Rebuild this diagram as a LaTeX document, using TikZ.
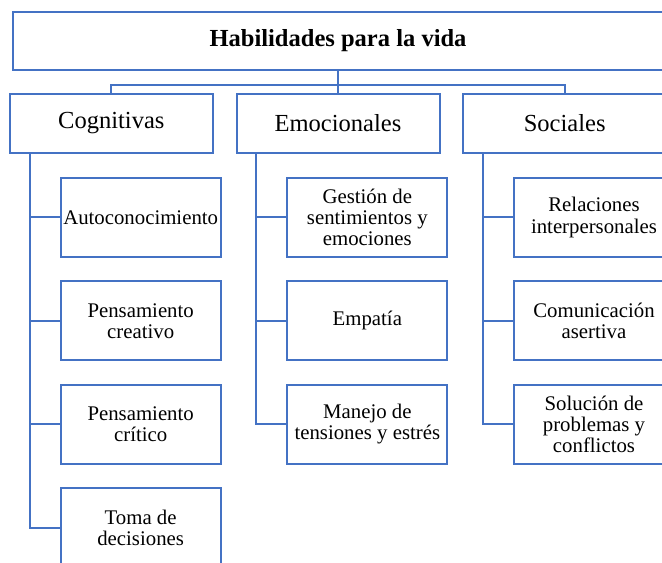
\documentclass[tikz,border=0pt]{standalone}
\usepackage{fontspec}
\setmainfont{Liberation Serif}
\usetikzlibrary{positioning}
\definecolor{azulrama}{RGB}{68,114,196}

\begin{document}
\begin{tikzpicture}

      \tikzstyle{titulo}=[rectangle,draw=azulrama,line width=1.5pt,
        minimum width=487.5pt,minimum height=43.5pt,
        text centered,font=\fontsize{18.4}{20}\selectfont\bfseries]
      \tikzstyle{area}=[rectangle,draw=azulrama,line width=1.5pt,
        minimum width=152.25pt,minimum height=44.25pt,
        text centered,font=\fontsize{18.4}{20}\selectfont]
      \tikzstyle{hoja}=[rectangle,draw=azulrama,line width=1.5pt,
        minimum width=120pt,minimum height=59.25pt,inner sep=1pt,
        align=center,font=\fontsize{15.6}{15.8}\selectfont]
      \tikzstyle{rama}=[draw=azulrama,line width=1.5pt]

      \useasboundingbox (0,0) rectangle (496.5pt,-422.25pt);

      \node(VIDA)[titulo] at (253.5pt,-30.75pt){Habilidades para la vida};

      \node(Cognitivas)[area,below =16.5pt of VIDA,
        xshift=-170pt]{Cognitivas};
      \node(Emocionales)[area,below =16.5pt of VIDA]{Emocionales};
      \node(Sociales)[area,below =16.5pt of VIDA,
        xshift=170pt]{Sociales};

      \coordinate(bus) at ([yshift=-10.5pt]VIDA.south);
      \draw [rama] (VIDA.south)--(bus);
      \draw [rama] (bus)-|(Cognitivas.north);
      \draw [rama] (bus)--(Emocionales.north);
      \draw [rama] (bus)-|(Sociales.north);

      \node(Autoconocimiento1)[hoja,below =17.25pt of Cognitivas,
        xshift=22pt]{Autoconocimiento};
      \node(Creativo1)[hoja,below =16.85pt of Autoconocimiento1]
        {Pensamiento\\creativo};
      \node(Critico1)[hoja,below =16.85pt of Creativo1]
        {Pensamiento\\crítico};
      \node(Decisiones1)[hoja,below =16.85pt of Critico1]
        {Toma de\\decisiones};

      \draw [rama] ([xshift=15.5pt]Cognitivas.south west)
      |-(Autoconocimiento1.west);
      \draw [rama] ([xshift=15.5pt]Cognitivas.south west)
      |-(Creativo1.west);
      \draw [rama] ([xshift=15.5pt]Cognitivas.south west)
      |-(Critico1.west);
      \draw [rama] ([xshift=15.5pt]Cognitivas.south west)
      |-(Decisiones1.west);

      \node(Sentimientos2)[hoja,below =17.25pt of Emocionales,
        xshift=22pt]{Gestión de\\sentimientos y\\emociones};
      \node(Empatia2)[hoja,below =16.85pt of Sentimientos2]{Empatía};
      \node(Tensiones2)[hoja,below =16.85pt of Empatia2]
        {Manejo de\\tensiones y estrés};

      \draw [rama] ([xshift=15.5pt]Emocionales.south west)
      |-(Sentimientos2.west);
      \draw [rama] ([xshift=15.5pt]Emocionales.south west)
      |-(Empatia2.west);
      \draw [rama] ([xshift=15.5pt]Emocionales.south west)
      |-(Tensiones2.west);

      \node(Relaciones3)[hoja,below =17.25pt of Sociales,
        xshift=22pt]{Relaciones\\interpersonales};
      \node(Comunicacion3)[hoja,below =16.85pt of Relaciones3]
        {Comunicación\\asertiva};
      \node(Solucion3)[hoja,below =16.85pt of Comunicacion3]
        {Solución de\\problemas y\\conflictos};

      \draw [rama] ([xshift=15.5pt]Sociales.south west)
      |-(Relaciones3.west);
      \draw [rama] ([xshift=15.5pt]Sociales.south west)
      |-(Comunicacion3.west);
      \draw [rama] ([xshift=15.5pt]Sociales.south west)
      |-(Solucion3.west);

    \end{tikzpicture}
\end{document}
